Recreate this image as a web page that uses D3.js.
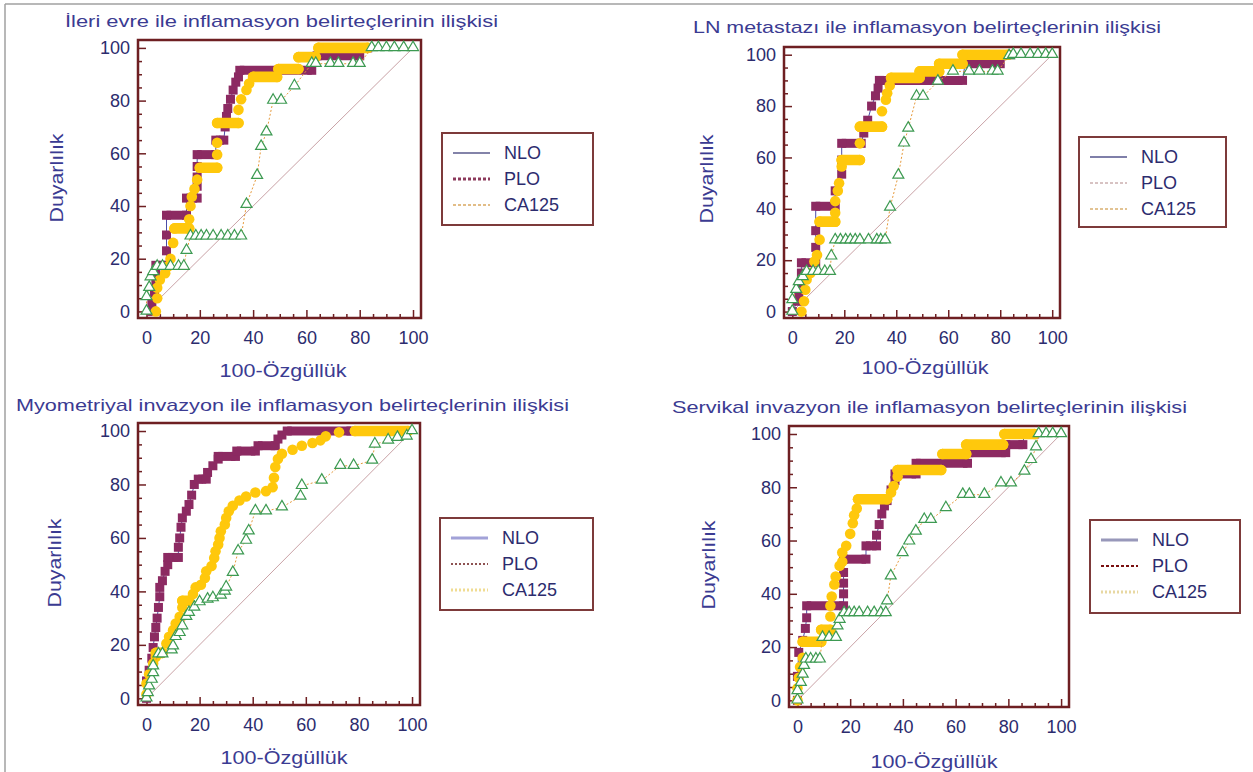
<!DOCTYPE html>
<html>
<head>
<meta charset="utf-8">
<script src="https://cdn.jsdelivr.net/npm/d3@7"></script>
<style>
  body { margin: 0; background: #fff; }
  svg { display: block; font-family: "Liberation Sans", Arial, sans-serif; }
</style>
</head>
<body>
<div id="chart"></div>
<script>
// ---- data ----
var seriesNames = ["NLO", "PLO", "CA125"];
var titles = [
	"İleri evre ile inflamasyon belirteçlerinin ilişkisi",
	"LN metastazı ile inflamasyon belirteçlerinin ilişkisi",
	"Myometriyal invazyon ile inflamasyon belirteçlerinin ilişkisi",
	"Servikal invazyon ile inflamasyon belirteçlerinin ilişkisi"
];
var yTitle = "Duyarlılık";
var xTitle = "100-Özgüllük";
var majorTicks = [0, 20, 40, 60, 80, 100];
var minorTicks = [5, 10, 15, 25, 30, 35, 45, 50, 55, 65, 70, 75, 85, 90, 95];

// panel 1 : ileri evre
var nlo1 = [[2,0],[2,3],[3,7],[3.5,11],[3.5,14],[3.5,17.5],[7.5,17.5],[7.5,23],[7.5,29],[7.5,36.5],[15,36.5],[15,43],[19,43],[19,47.5],[19,51],[19,55],[19,59.5],[26,59.5],[26,65],[29,65],[29.5,70],[30,74],[30.5,77],[31.5,80.5],[32.5,84],[33.5,87],[34.5,89],[35,91.5],[62,91.5],[64,97],[80,97],[80,100],[83,100]];
var plo1 = [[3.5,0],[4,5],[4,9],[5,12],[7,14.5],[8,17],[9,20],[10,26],[10.5,31.5],[16,31.5],[16,35],[16.5,40],[17,43.5],[18,46.5],[19,50],[20,54.5],[26.5,54.5],[26.5,59.5],[26.5,64],[26.5,71.5],[34.5,71.5],[34.5,76.5],[35.5,80.5],[37.5,84],[38.5,86.5],[40,89],[49,89],[49.5,92],[57,92],[57,96.5],[63.5,96.5],[64.5,100],[83,100]];
var ca1 = [[0,0],[0,5.5],[1,9],[1.5,13],[2.5,15],[4,17],[6,17],[9,17],[12,17],[14,17],[15,23],[16.5,28.5],[18.5,28.5],[20.5,28.5],[22.5,28.5],[25,28.5],[28,28.5],[30.5,28.5],[33,28.5],[35.5,28.5],[37.5,40.5],[41.5,51.5],[43,62.5],[45,68],[47.5,80],[50.5,80],[55.5,85.5],[62,94],[63.5,94],[69,94],[72,94],[77.5,94],[80,94],[84.5,100],[87,100],[90,100],[93,100],[96.5,100],[100,100]];

// panel 2 : LN metastazı
var nlo2 = [[0,0],[2,4],[2.5,7],[3.5,11],[3.5,15],[3.5,19],[9,19],[9,25],[9,31.5],[9,41],[16.5,41],[16.5,47],[19,53.5],[19,59],[19,65.5],[26.5,65.5],[27.5,69.5],[29,74.5],[30.5,80],[32,84],[33,87],[33.5,90],[65.5,90],[66.5,96.5],[80,96.5],[80,100],[84,100]];
var plo2 = [[3.5,0],[4.5,4],[5,8.5],[5.5,12.5],[7,15],[8.5,19.5],[9.5,22],[10.5,28],[10.5,35],[16.5,35],[16.5,38.5],[16.5,43],[17.5,47],[18,50],[19,56.5],[19,59],[26,59],[26,65.5],[26,72],[34.5,72],[34.5,78],[36,82.5],[36.5,85],[37.5,88],[38,91],[49,91],[49,93.5],[56.5,93.5],[56.5,96.5],[65.5,96.5],[65.5,100],[83,100]];
var ca2 = [[0,0],[0,4.5],[1.5,8.5],[2.5,11.5],[4,13.5],[5.5,15.5],[8,15.5],[10,15.5],[12.5,15.5],[14.5,15.5],[15,21.5],[16.5,27.8],[18.5,27.8],[20.5,27.8],[22.3,27.8],[24.2,27.8],[26,27.8],[29.3,27.8],[32.5,27.8],[34,27.8],[35.7,27.8],[37.6,40.5],[40.8,53],[43,65.5],[44.6,71.3],[47.8,83.7],[50.3,83.7],[56,89.6],[61.8,93.5],[68,93.5],[72,93.5],[77,93.5],[79,93.5],[83.4,99.5],[85,100],[88,100],[91.5,100],[94.5,100],[97.5,100],[100,100]];

// panel 3 : myometriyal invazyon
var nlo3 = [[0,0],[0,6.5],[1,10.5],[2,15],[2.5,19],[3,23],[3.5,26.5],[4,30],[4.5,34],[5,38],[5,41.5],[6,44],[7,47.5],[8,50],[8,52.7],[12,52.7],[12,56.5],[12.5,60],[13,64],[13.5,67.5],[15,70],[16,72.5],[17,76],[18,80],[19.5,82],[22.5,82],[23,84.5],[25,87],[27,89.5],[27,90.5],[33.5,90.5],[34,92.5],[41,92.5],[42,94.5],[48.5,94.5],[49.5,97],[51,98.5],[53,100],[77,100]];
var plo3 = [[0,1.5],[0,5.5],[1,9],[2.5,13],[3.5,15.5],[3.5,17],[6,17],[7.5,20.5],[8.5,23],[10,25.5],[11,28],[12.5,30.5],[13.5,34],[13.5,36.5],[16,36.5],[17.5,39],[18.5,41.5],[20.5,42.5],[22,45],[22.5,47.5],[24.5,49.5],[25.5,52.5],[26,55],[27,57.5],[27.5,60],[28,62.5],[29.5,65],[30,67.5],[31,70],[32.5,72],[35,74],[37.5,75.5],[41,77],[45,77.5],[47.5,79],[48,82.5],[48.5,86.5],[49.5,89.5],[51,91.5],[55,93],[58.5,94.5],[62.5,95.5],[65.5,96.5],[67.5,98],[72.5,99.5],[78.5,100],[98.5,100]];
var ca3 = [[0,0],[0.5,2],[1,4.5],[2,7],[2.5,9.5],[2.5,12],[4.5,16.5],[6,16.5],[9.5,18],[10,19.5],[11,23],[12.5,24.5],[13.5,27],[15,30.5],[16,32],[18,34],[20,36],[23,37],[25,37.5],[28,38.5],[29.5,40],[30,41.5],[32.5,47],[34.5,55],[37.5,59],[38.5,62.5],[41,70],[45,70],[51,71.5],[58,75.5],[58.5,79.5],[66,81.5],[73,87],[78,87],[85,89],[86,95],[91,96.5],[94.5,97.5],[98,98],[100,100]];

// panel 4 : servikal invazyon
var nlo4 = [[0,0],[0,9],[0.5,18],[2,22.5],[3,27],[3.5,31],[3.5,35.5],[17.5,35.5],[17.5,40],[17.5,44],[17.5,48],[17.5,53],[26,53],[26,58],[30,58],[30,62],[31,66],[32,70],[33,73],[34,75],[35.5,79],[37,82.5],[37,85],[45,85],[45,89],[64.5,89],[65,93],[79,93],[79,96],[85.5,96],[86,100],[90,100]];
var plo4 = [[0,0],[0,4.5],[0.5,8.5],[1,12.5],[2,16],[2,22],[9,22],[9,26.5],[12.5,26.5],[12.5,31.5],[12.5,35.5],[13,39],[14,43.5],[14.5,46.5],[16,50.5],[17,52],[17,55.5],[18.5,58],[20,62.5],[21,66.5],[21.5,69.5],[22.5,72],[23,75.5],[34,75.5],[35.5,78],[36.5,80.5],[38,84],[38,86.5],[54.5,86.5],[55,92.5],[64,92.5],[64,96],[78,96],[78.5,100],[90,100]];
var ca4 = [[0,0],[0,3.5],[1.3,6.6],[2,9.7],[2.5,13],[3.2,15.4],[5,15.4],[7,15.4],[8.5,15.4],[9.5,23.5],[12,23.5],[14.6,23.5],[15.2,27.8],[16,30.3],[17.7,32.8],[19.6,32.8],[21.5,32.8],[23.4,32.8],[26.6,32.8],[29.1,32.8],[31.6,32.8],[33.5,32.8],[34,37.2],[35.4,46.6],[39.9,55.3],[42.4,59.7],[44.9,63.4],[48.1,67.8],[50.6,67.8],[56.3,72.2],[62.7,77.2],[65.2,77.2],[70.9,77.2],[77.2,81.5],[81,81.5],[86.1,85.9],[88.6,90.3],[90.5,95],[91.5,100],[94.3,100],[96.8,100],[100,100]];

// ---- layout & look ----
var W = 1253, H = 772;
var colors = {
	frame: "#6e1f22",
	tick: "#2c2c6e",
	title: "#3b3b92",
	nlo: "#8c2a62",
	nloLine: "#4c4ca6",
	plo: "#ffc80c",
	ca: "#3d9a52",
	caLine: "#e69a3c",
	diag: "#c9a2a6"
};
var sq = 9;     // square marker side
var dot = 5.3;  // circle marker radius

var panels = [
	{ nlo: nlo1, plo: plo1, ca: ca1, frame: [138, 40, 421, 318], title: [65, 27, 433], ylab: [57, 178], xlab: [283, 371], legend: [442, 133, 151, 92],
	  leg: [["#5a5a8c", 1.5, null], ["#8c3a5c", 3, "3,2"], ["#d9a860", 1.5, "3,2"]] },
	{ nlo: nlo2, plo: plo2, ca: ca2, frame: [784, 47, 1060, 318], title: [693, 33, 468], ylab: [707, 179], xlab: [925, 368], legend: [1079, 137, 147, 90],
	  leg: [["#55558c", 1.5, null], ["#b08686", 1, "3,2"], ["#d9b070", 1.5, "3,2"]] },
	{ nlo: nlo3, plo: plo3, ca: ca3, frame: [138, 423, 420, 705], title: [16, 411, 553], ylab: [55, 563], xlab: [284, 758], legend: [440, 518, 153, 92],
	  leg: [["#a2a2d8", 3, null], ["#6a1a1a", 1.5, "2,2"], ["#f0dc92", 3, "2,2"]] },
	{ nlo: nlo4, plo: plo4, ca: ca4, frame: [789, 426, 1069, 707], title: [672, 413, 515], ylab: [709, 565], xlab: [934, 762], legend: [1090, 520, 150, 93],
	  leg: [["#9898ba", 3, null], ["#7a1010", 2, "3,2"], ["#e8d8a2", 3, "2,2"]] }
];

var svg = d3.select("#chart")
	.append("svg")
	.attr("width", W)
	.attr("height", H);

svg.append("rect").attr("width", W).attr("height", H).attr("fill", "#fff");

// scanned-page border
svg.append("line").attr("x1", 5).attr("x2", W).attr("y1", 4).attr("y2", 4)
	.attr("stroke", "#a0a0a0").attr("stroke-width", 1.5);
svg.append("line").attr("x1", 5).attr("x2", 5).attr("y1", 4).attr("y2", H)
	.attr("stroke", "#a0a0a0").attr("stroke-width", 1.5);

var drawPanel = function (p, i) {
	var f = p.frame;
	var x = d3.scaleLinear().domain([-3.2, 103]).range([f[0], f[2]]);
	var y = d3.scaleLinear().domain([-2.5, 103]).range([f[3], f[1]]);
	var g = svg.append("g").attr("class", "panel" + (i + 1));

	g.append("text")
		.attr("x", p.title[0])
		.attr("y", p.title[1])
		.attr("textLength", p.title[2])
		.attr("lengthAdjust", "spacingAndGlyphs")
		.attr("font-size", 17)
		.attr("fill", colors.title)
		.text(titles[i]);

	g.append("rect")
		.attr("x", f[0]).attr("y", f[1])
		.attr("width", f[2] - f[0]).attr("height", f[3] - f[1])
		.attr("fill", "#fff")
		.attr("stroke", colors.frame)
		.attr("stroke-width", 2.5);

	// axes: ticks point inward, labels outside
	var styleAxis = function (sel) {
		sel.select(".domain").remove();
		sel.selectAll(".tick line").attr("stroke", colors.frame).attr("stroke-width", 1.5);
		sel.selectAll(".tick text").attr("fill", colors.tick).attr("font-size", 18)
			.attr("font-family", "Liberation Sans, Arial, sans-serif");
	};
	g.append("g").attr("transform", "translate(" + f[0] + ",0)")
		.call(d3.axisLeft(y).tickValues(majorTicks).tickSizeInner(-8).tickSizeOuter(0).tickPadding(8))
		.call(styleAxis);
	g.append("g").attr("transform", "translate(" + f[0] + ",0)")
		.call(d3.axisLeft(y).tickValues(minorTicks).tickSize(-4).tickFormat(""))
		.call(styleAxis);
	g.append("g").attr("transform", "translate(0," + f[3] + ")")
		.call(d3.axisBottom(x).tickValues(majorTicks).tickSizeInner(-8).tickSizeOuter(0).tickPadding(13))
		.call(styleAxis);
	g.append("g").attr("transform", "translate(0," + f[3] + ")")
		.call(d3.axisBottom(x).tickValues(minorTicks).tickSize(-4).tickFormat(""))
		.call(styleAxis);

	g.append("text")
		.attr("transform", "translate(" + p.ylab[0] + "," + p.ylab[1] + ") rotate(-90)")
		.attr("text-anchor", "middle")
		.attr("dy", "0.35em")
		.attr("textLength", 89)
		.attr("lengthAdjust", "spacingAndGlyphs")
		.attr("font-size", 18)
		.attr("fill", colors.title)
		.text(yTitle);
	g.append("text")
		.attr("x", p.xlab[0]).attr("y", p.xlab[1])
		.attr("text-anchor", "middle")
		.attr("dy", "0.35em")
		.attr("textLength", 127)
		.attr("lengthAdjust", "spacingAndGlyphs")
		.attr("font-size", 18)
		.attr("fill", colors.title)
		.text(xTitle);

	// reference diagonal
	g.append("line")
		.attr("x1", x(0)).attr("y1", y(0))
		.attr("x2", x(100)).attr("y2", y(100))
		.attr("stroke", colors.diag).attr("stroke-width", 1);

	var line = d3.line().x(function (d) { return x(d[0]); }).y(function (d) { return y(d[1]); });
	// horizontal runs (tied points) drawn as a thick band
	var runs = function (pts) {
		var out = [];
		for (var k = 0; k < pts.length - 1; k++) {
			if (pts[k][1] === pts[k + 1][1]) out.push([pts[k], pts[k + 1]]);
		}
		return out;
	};

	// NLO : squares
	g.append("path").attr("d", line(p.nlo)).attr("fill", "none")
		.attr("stroke", colors.nloLine).attr("stroke-width", 1);
	g.selectAll(".nloRun").data(runs(p.nlo)).enter().append("path")
		.attr("d", function (d) { return line(d); })
		.attr("stroke", colors.nlo).attr("stroke-width", sq);
	g.selectAll(".nloPt").data(p.nlo).enter().append("rect")
		.attr("x", function (d) { return x(d[0]) - sq / 2; })
		.attr("y", function (d) { return y(d[1]) - sq / 2; })
		.attr("width", sq).attr("height", sq)
		.attr("fill", colors.nlo);

	// PLO : filled circles
	g.selectAll(".ploRun").data(runs(p.plo)).enter().append("path")
		.attr("d", function (d) { return line(d); })
		.attr("stroke", colors.plo).attr("stroke-width", dot * 2)
		.attr("stroke-linecap", "round");
	g.selectAll(".ploPt").data(p.plo).enter().append("circle")
		.attr("cx", function (d) { return x(d[0]); })
		.attr("cy", function (d) { return y(d[1]); })
		.attr("r", dot)
		.attr("fill", colors.plo);

	// CA125 : open triangles on a dotted line
	g.append("path").attr("d", line(p.ca)).attr("fill", "none")
		.attr("stroke", colors.caLine).attr("stroke-width", 1)
		.attr("stroke-dasharray", "2,2");
	var tri = d3.symbol().type(d3.symbolTriangle).size(52);
	g.selectAll(".caPt").data(p.ca).enter().append("path")
		.attr("d", tri)
		.attr("transform", function (d) { return "translate(" + x(d[0]) + "," + (y(d[1]) - 0.5) + ")"; })
		.attr("fill", "#fff")
		.attr("stroke", colors.ca)
		.attr("stroke-width", 1.2);

	// legend
	var L = p.legend;
	var lg = g.append("g").attr("transform", "translate(" + L[0] + "," + L[1] + ")");
	lg.append("rect").attr("width", L[2]).attr("height", L[3])
		.attr("fill", "#fff").attr("stroke", "#7d3a3a").attr("stroke-width", 2);
	var rowY = d3.scalePoint().domain(seriesNames).range([20, 72]);
	seriesNames.forEach(function (name, k) {
		var st = p.leg[k];
		lg.append("line")
			.attr("x1", 11).attr("x2", 48)
			.attr("y1", rowY(name)).attr("y2", rowY(name))
			.attr("stroke", st[0]).attr("stroke-width", st[1])
			.attr("stroke-dasharray", st[2]);
		lg.append("text")
			.attr("x", 62).attr("y", rowY(name))
			.attr("dy", "0.36em")
			.attr("font-size", 18)
			.attr("fill", colors.tick)
			.text(name);
	});
};

panels.forEach(drawPanel);
</script>
</body>
</html>
